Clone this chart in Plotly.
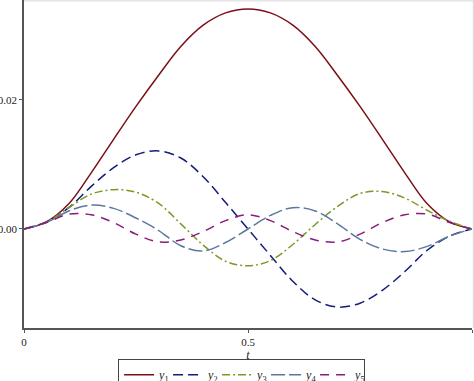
import plotly.graph_objects as go

t = [0.00, 0.05, 0.10, 0.15, 0.20, 0.25, 0.30, 0.35, 0.40, 0.45, 0.50,
     0.55, 0.60, 0.65, 0.70, 0.75, 0.80, 0.85, 0.90, 0.95, 1.00]

y1 = [0.0, 0.0011, 0.0039, 0.0087, 0.0139, 0.0190, 0.0238, 0.0283, 0.0316, 0.0335, 0.0341,
      0.0335, 0.0316, 0.0283, 0.0238, 0.0190, 0.0139, 0.0087, 0.0039, 0.0011, 0.0]
y2 = [0.0, 0.0011, 0.0033, 0.0066, 0.0095, 0.0115, 0.0121, 0.0110, 0.0081, 0.0041, 0.0000,
      -0.0041, -0.0081, -0.0110, -0.0121, -0.0115, -0.0095, -0.0066, -0.0033, -0.0011, 0.0]
y3 = [0.0, 0.0011, 0.0033, 0.0054, 0.0061, 0.0057, 0.0040, 0.0008, -0.0025, -0.0050, -0.0057,
      -0.0049, -0.0024, 0.0007, 0.0035, 0.0055, 0.0058, 0.0048, 0.0029, 0.0012, 0.0]
y4 = [0.0, 0.0010, 0.0028, 0.0037, 0.0032, 0.0017, -0.0002, -0.0026, -0.0034, -0.0021, 0.0000,
      0.0021, 0.0033, 0.0028, 0.0008, -0.0016, -0.0031, -0.0035, -0.0027, -0.0011, 0.0]
y5 = [0.0, 0.0010, 0.0023, 0.0022, 0.0010, -0.0008, -0.0020, -0.0017, -0.0004, 0.0013, 0.0022,
      0.0013, -0.0004, -0.0017, -0.0020, -0.0008, 0.0010, 0.0022, 0.0023, 0.0010, 0.0]

names = ["<i>y</i><sub>1</sub>", "<i>y</i><sub>2</sub>", "<i>y</i><sub>3</sub>",
         "<i>y</i><sub>4</sub>", "<i>y</i><sub>5</sub>"]
series = [y1, y2, y3, y4, y5]
colors = ["#7D0E16", "#141C78", "#7A9A28", "#5A78A0", "#8A1C7C"]
dashes = ["solid", "10px,5px", "8px,3px,2px,3px", "14px,4px", "9px,7px"]

fig = go.Figure()
for name, ys, c, d in zip(names, series, colors, dashes):
    fig.add_trace(go.Scatter(
        x=t, y=ys, mode="lines", name=name,
        line=dict(color=c, width=1.5, dash=d, shape="spline", smoothing=1.0),
    ))

font = "Liberation Serif"
fig.update_layout(
    width=474, height=381,
    margin=dict(l=24, r=2, t=0, b=53, autoexpand=False),
    paper_bgcolor="white", plot_bgcolor="white",
    font=dict(family=font, size=11, color="#222"),
    showlegend=True,
    legend=dict(
        orientation="h", x=0.21, y=-0.095, xanchor="left", yanchor="top",
        bordercolor="#444", borderwidth=1, font=dict(family=font, size=12, color="#222"),
        itemwidth=30, tracegroupgap=0, entrywidth=4, entrywidthmode="pixels",
    ),
    xaxis=dict(
        range=[0, 1], tickvals=[0, 0.5, 1], ticktext=["0", "0.5", "1"], automargin=False,
        showgrid=False, zeroline=False, showline=True, linecolor="#555", linewidth=1.5,
        ticks="outside", ticklen=3, tickcolor="#555",
        title=dict(text="<i>t</i>", standoff=0, font=dict(family=font, size=12)),
    ),
    yaxis=dict(
        range=[-0.01535, 0.0355], tickvals=[0.0, 0.02], ticktext=["0.00", "0.02"],
        automargin=False,
        showgrid=False, zeroline=False, showline=True, linecolor="#555", linewidth=1.5,
        ticks="outside", ticklen=3, tickcolor="#555",
    ),
    shapes=[
        dict(type="line", xref="paper", yref="paper", x0=0, x1=1.005, y0=1.0, y1=1.0,
             line=dict(color="#e4e4e4", width=3)),
        dict(type="line", xref="paper", yref="paper", x0=1.004, x1=1.004, y0=0, y1=1.0,
             line=dict(color="#dcdcdc", width=2)),
    ],
)

fig.write_html("out.html", config={"displayModeBar": False},
               post_script="document.body.style.margin='0';document.body.style.overflow='hidden';")
